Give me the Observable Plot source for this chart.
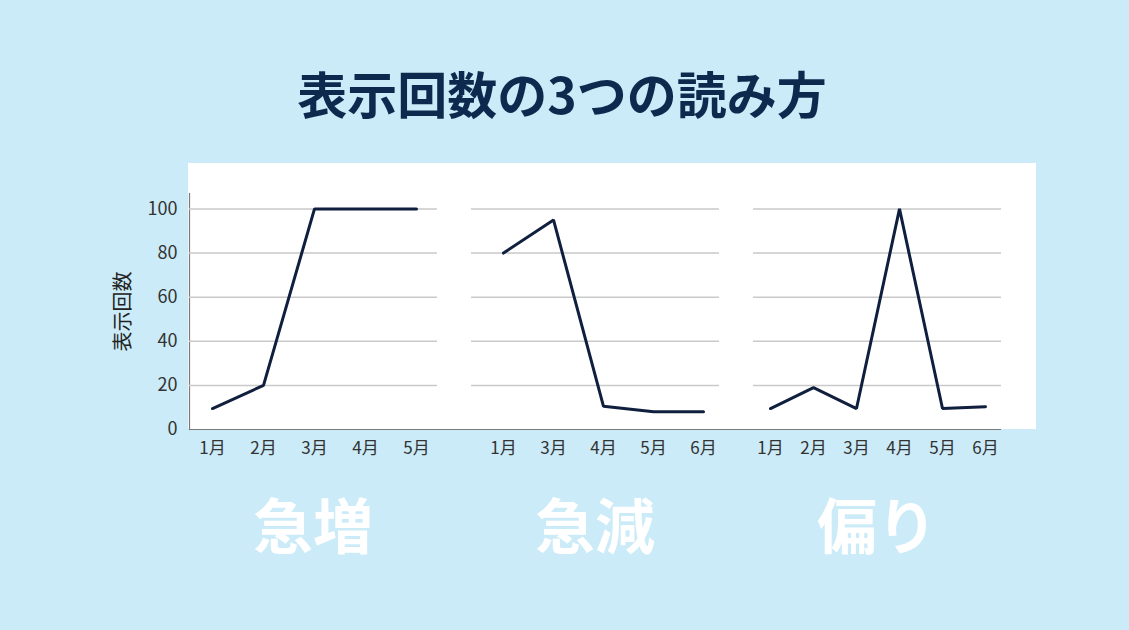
<!DOCTYPE html>
<html lang="ja">
<head>
<meta charset="utf-8">
<script src="https://cdn.jsdelivr.net/npm/d3@7"></script>
<script src="https://cdn.jsdelivr.net/npm/@observablehq/plot@0.6"></script>
<style>
  html, body { margin: 0; padding: 0; }
  body { width: 1129px; height: 630px; background: #caebf7; position: relative; overflow: hidden;
         font-family: "Noto Sans CJK JP", "Noto Sans", sans-serif; }
  #title { position: absolute; left: 0; width: 1124px; top: 67px; text-align: center;
           font-size: 50px; line-height: 50px; font-weight: 700; color: #0d2a4e; }
  #panel { position: absolute; left: 188px; top: 163px; width: 848px; height: 266px; background: #ffffff; }
  .chart { position: absolute; top: 180px; }
  .tag { position: absolute; top: 493px; width: 300px; text-align: center; font-size: 60px; line-height: 60px;
         font-weight: 700; color: #ffffff; }
</style>
</head>
<body>
<div id="title"></div>
<div id="panel"></div>
<div id="c1" class="chart"></div>
<div id="c2" class="chart"></div>
<div id="c3" class="chart"></div>
<div id="t1" class="tag"></div>
<div id="t2" class="tag"></div>
<div id="t3" class="tag"></div>
<script>
// ---- data ----
const titleText = "表示回数の3つの読み方";
const yLabel = "表示回数";
const yTicks = [0, 20, 40, 60, 80, 100];

const months1 = ["1月", "2月", "3月", "4月", "5月"];
const values1 = [9.5, 20, 100, 100, 100];

const months2 = ["1月", "3月", "4月", "5月", "6月"];
const values2 = [80, 95, 10.5, 8, 8];

const months3 = ["1月", "2月", "3月", "4月", "5月", "6月"];
const values3 = [9.5, 19, 9.5, 100, 9.5, 10.3];

const panelLabels = ["急増", "急減", "偏り"];

// ---- drawing ----
document.getElementById("title").textContent = titleText;

const font = '"Noto Sans CJK JP", "Noto Sans", sans-serif';
const lineColor = "#0f1f3d";

function panel({months, values, showY, left, width, marginLeft, marginRight, padding, align, extendLeft}) {
  const data = months.map((m, i) => ({month: m, value: values[i]}));
  const marks = [
    Plot.gridY(yTicks.filter(d => d > 0), {stroke: "#c9c9c9", strokeOpacity: 1, strokeWidth: 1.5}),
    Plot.ruleY([0], {stroke: "#7a7a7a", strokeWidth: 1.2, insetLeft: -extendLeft}),
    Plot.axisX({tickSize: 0, tickPadding: 12, label: null, fontSize: 17, fill: "#333"}),
    Plot.line(data, {x: "month", y: "value", stroke: lineColor, strokeWidth: 3, strokeLinejoin: "miter"})
  ];
  if (showY) {
    marks.unshift(Plot.frame({anchor: "left", stroke: "#7a7a7a", strokeWidth: 1.2}));
    marks.push(Plot.axisY({ticks: yTicks, tickSize: 0, tickPadding: 12, label: null, fontSize: 18, fill: "#333"}));
    marks.push(Plot.axisY({ticks: [], label: yLabel, labelAnchor: "center", labelArrow: "none",
                           labelOffset: 74, fontSize: 20, fill: "#222"}));
  }
  const chart = Plot.plot({
    width, height: 300,
    marginLeft, marginRight, marginTop: 13, marginBottom: 51,
    style: {background: "transparent", fontFamily: font, overflow: "visible"},
    x: {type: "point", domain: months, padding, align},
    y: {domain: [0, 107], axis: showY ? undefined : null},
    marks
  });
  return chart;
}

const c1 = panel({months: months1, values: values1, showY: true, left: 100, width: 337,
                  marginLeft: 89, marginRight: 0, padding: 0.42, align: 0.53, extendLeft: 0});
const c2 = panel({months: months2, values: values2, showY: false, left: 437, width: 290,
                  marginLeft: 34, marginRight: 8, padding: 0.443, align: 0.667, extendLeft: 34});
const c3 = panel({months: months3, values: values3, showY: false, left: 719, width: 300,
                  marginLeft: 34, marginRight: 18, padding: 0.331, align: 0.52, extendLeft: 34});

const place = [[c1, "c1", 100], [c2, "c2", 437], [c3, "c3", 719]];
for (const [svg, id, left] of place) {
  const el = document.getElementById(id);
  el.style.left = left + "px";
  el.appendChild(svg);
}

const centers = [313, 595, 877];
panelLabels.forEach((t, i) => {
  const el = document.getElementById("t" + (i + 1));
  el.textContent = t;
  el.style.left = (centers[i] - 150) + "px";
});
</script>
</body>
</html>
